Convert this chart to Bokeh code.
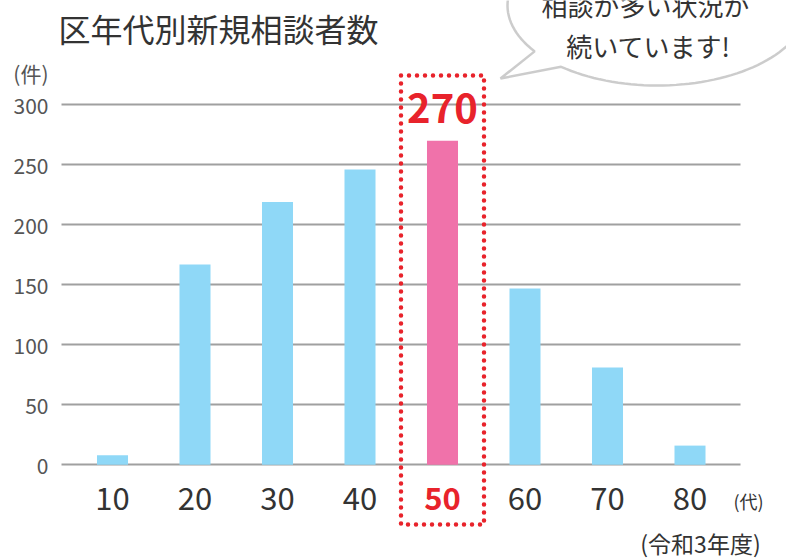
import numpy as np
from bokeh.plotting import figure
from bokeh.models import (ColumnDataSource, FixedTicker, Label, PolyAnnotation,
                          Range1d, Grid, BoxAnnotation)
from bokeh.core.properties import value
from bokeh.embed import file_html
from bokeh.resources import INLINE

# ---------------- data ----------------
age_labels = ["10", "20", "30", "40", "50", "60", "70", "80"]
counts = [8, 167, 219, 246, 270, 147, 81, 16]
highlight_index = 4
y_ticks = [0, 50, 100, 150, 200, 250, 300]
title_text = "区年代別新規相談者数"
unit_y = "(件)"
unit_x = "(代)"
year_note = "(令和3年度)"
bubble_lines = ["相談が多い状況が", "続いています!"]

FONT = "Noto Sans CJK JP"
BLUE = "#8fd8f7"
PINK = "#f072aa"
RED = "#e8232b"
TEXT = "#333333"

# ---------------- layout constants ----------------
W, H = 786, 559
FL = 56                     # frame left in canvas px (frame reaches right edge)
PXX = 82.5                  # px per category
X0 = (FL - 112) / PXX
X1 = X0 + (W - FL) / PXX
Y0PIX = 464.3               # canvas y of value 0
PXY = 1.2
Y_TOP = Y0PIX / PXY
Y_BOT = -(H - Y0PIX) / PXY


def dx(sx):  # canvas x -> data x
    return X0 + (sx - FL) / PXX


def dy(sy):  # canvas y -> data y
    return (Y0PIX - sy) / PXY


p = figure(width=W, height=H, output_backend="svg", toolbar_location=None,
           x_range=Range1d(X0, X1), y_range=Range1d(Y_BOT, Y_TOP),
           min_border_left=FL, min_border_right=0,
           min_border_top=0, min_border_bottom=0)
p.outline_line_color = None
p.background_fill_color = "white"
p.border_fill_color = "white"
p.xaxis.visible = False
p.xgrid.grid_line_color = None

# y axis: numeric ticks plus the unit label above them
unit_pos = dy(72)
p.yaxis.ticker = FixedTicker(ticks=y_ticks + [unit_pos])
p.yaxis.major_label_overrides = {unit_pos: unit_y}
p.ygrid.ticker = FixedTicker(ticks=y_ticks)
p.ygrid.grid_line_color = "#a0a0a0"
p.ygrid.grid_line_width = 2
grid_x0, grid_x1 = dx(61), dx(740)
if "cross_bounds" in Grid.properties():
    p.ygrid.cross_bounds = (grid_x0, grid_x1)
else:
    p.add_layout(BoxAnnotation(left=grid_x1, bottom=-10, top=310,
                               fill_color="white", fill_alpha=1,
                               line_color=None, level="underlay"))
p.yaxis.axis_line_color = None
p.yaxis.major_tick_line_color = None
p.yaxis.minor_tick_line_color = None
p.yaxis.major_tick_out = 0
p.yaxis.major_label_standoff = 8
p.yaxis.major_label_text_font = FONT
p.yaxis.major_label_text_font_size = "21px"
p.yaxis.major_label_text_color = "#555555"

xs = list(range(len(age_labels)))
colors = [PINK if i == highlight_index else BLUE for i in xs]
src = ColumnDataSource(dict(x=xs, top=counts, color=colors))
p.vbar(x="x", top="top", bottom=0, width=0.376, fill_color="color",
       line_color=None, source=src)

# x category labels
lab_colors = [RED if i == highlight_index else TEXT for i in xs]
lab_styles = ["bold" if i == highlight_index else "normal" for i in xs]
lsrc = ColumnDataSource(dict(x=xs, y=[dy(498)] * len(xs), t=age_labels,
                             c=lab_colors, s=lab_styles))
p.text(x="x", y="y", text="t", text_color="c", text_font_style="s",
       text_font=value(FONT), text_font_size="31px", text_align="center",
       text_baseline="middle", source=lsrc)

# highlight box (dotted)
hx = highlight_index
p.rect(x=[hx], y=[(dy(75) + dy(524)) / 2], width=dx(482) - dx(399),
       height=dy(75) - dy(524), fill_color=None, line_color=RED,
       line_width=4.5, line_dash="0 8", line_cap="round")
p.text(x=[hx], y=[dy(107)], text=[str(counts[hx])], text_color=RED,
       text_font=value(FONT), text_font_size="40px", text_font_style="bold",
       text_align="center", text_baseline="middle")

# title & units
p.add_layout(Label(x=dx(58), y=dy(27), text=title_text, text_font=FONT,
                   text_font_size="32px", text_color=TEXT,
                   text_baseline="middle", text_align="left"))
p.add_layout(Label(x=dx(748), y=dy(500), text=unit_x, text_font=FONT,
                   text_font_size="18px", text_color=TEXT,
                   text_baseline="middle", text_align="center"))
p.add_layout(Label(x=dx(700), y=dy(542), text=year_note, text_font=FONT,
                   text_font_size="23px", text_color=TEXT,
                   text_baseline="middle", text_align="center"))

# speech bubble
cx, cy, rx, ry = 657, 5, 150, 80
th = np.radians(np.linspace(130, -215, 140))
bx = list(cx + rx * np.cos(th)) + [500]
by = list(cy + ry * np.sin(th)) + [78]
p.add_layout(PolyAnnotation(xs=[dx(v) for v in bx], ys=[dy(v) for v in by],
                            fill_color="white", fill_alpha=1.0,
                            line_color="#555555", line_width=2.5))
p.add_layout(Label(x=dx(645), y=dy(4), text=bubble_lines[0], text_font=FONT,
                   text_font_size="26px", text_color=TEXT,
                   text_baseline="middle", text_align="center"))
p.add_layout(Label(x=dx(648), y=dy(45), text=bubble_lines[1], text_font=FONT,
                   text_font_size="26px", text_color=TEXT,
                   text_baseline="middle", text_align="center"))

open("out.html", "w").write(file_html(p, INLINE))
